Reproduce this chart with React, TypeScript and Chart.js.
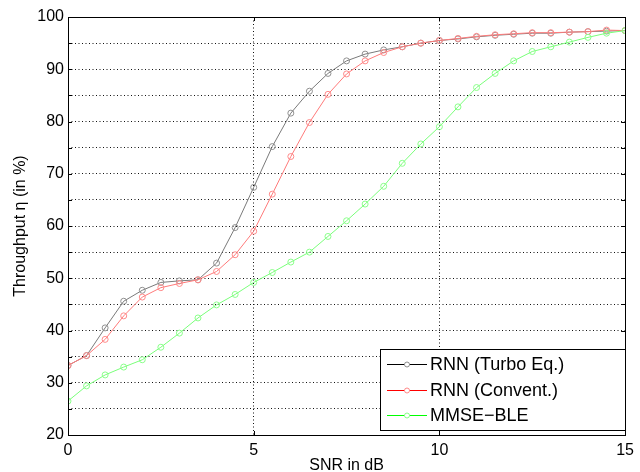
import React, { useEffect, useRef } from "react";
import { Chart, registerables } from "chart.js";

Chart.register(...registerables);

const snr = [0, 0.5, 1, 1.5, 2, 2.5, 3, 3.5, 4, 4.5, 5, 5.5, 6, 6.5, 7, 7.5, 8, 8.5, 9, 9.5, 10, 10.5, 11, 11.5, 12, 12.5, 13, 13.5, 14, 14.5, 15];

const turbo = [33.3, 35.2, 40.5, 45.6, 47.7, 49.2, 49.5, 49.7, 52.9, 59.7, 67.4, 75.2, 81.6, 85.8, 89.2, 91.6, 92.9, 93.7, 94.3, 95.0, 95.5, 95.8, 96.2, 96.5, 96.7, 96.9, 96.9, 97.1, 97.2, 97.3, 97.4];
const convent = [33.3, 35.2, 38.3, 42.8, 46.4, 48.2, 49.0, 49.7, 51.3, 54.5, 59.0, 66.1, 73.3, 79.8, 85.2, 89.1, 91.6, 93.2, 94.3, 95.0, 95.5, 95.9, 96.3, 96.6, 96.8, 97.0, 97.0, 97.1, 97.2, 97.5, 97.4];
const mmse = [26.5, 29.4, 31.5, 33.0, 34.4, 36.8, 39.5, 42.4, 44.9, 46.9, 49.2, 51.1, 53.1, 55.0, 58.0, 61.0, 64.2, 67.6, 72.0, 75.7, 79.0, 82.8, 86.5, 89.2, 91.6, 93.4, 94.3, 95.2, 96.1, 96.9, 97.4];

const seriesNames = ["RNN (Turbo Eq.)", "RNN (Convent.)", "MMSE\u2212BLE"];
const xTicks = [0, 5, 10, 15];
const yTicks = [20, 25, 30, 35, 40, 45, 50, 55, 60, 65, 70, 75, 80, 85, 90, 95, 100];

const lineColors = ["#7a7a7a", "#ff7a7a", "#7aff7a"];
const markerColors = ["#909090", "#ff8a8a", "#8aff8a"];
const legendLineColors = ["#000000", "#ff0000", "#00ff00"];
const FONT = "'Liberation Sans', Arial, sans-serif";

const toPoints = (ys: number[]) => ys.map((y, i) => ({ x: snr[i], y }));

const boxPlugin = {
  id: "boxPlugin",
  afterDatasetsDraw(chart: any) {
    const { ctx, chartArea: a, scales } = chart;
    ctx.save();
    ctx.strokeStyle = "#000";
    ctx.lineWidth = 1;
    ctx.strokeRect(Math.round(a.left) + 0.5, Math.round(a.top) + 0.5, Math.round(a.right - a.left), Math.round(a.bottom - a.top));
    const tl = 4;
    ctx.beginPath();
    yTicks.forEach((v) => {
      const y = Math.round(scales.y.getPixelForValue(v)) + 0.5;
      ctx.moveTo(a.left, y); ctx.lineTo(a.left + tl, y);
      ctx.moveTo(a.right, y); ctx.lineTo(a.right - tl, y);
    });
    xTicks.forEach((v) => {
      const x = Math.round(scales.x.getPixelForValue(v)) + 0.5;
      ctx.moveTo(x, a.bottom); ctx.lineTo(x, a.bottom - tl);
      ctx.moveTo(x, a.top); ctx.lineTo(x, a.top + tl);
    });
    ctx.stroke();
    ctx.restore();
  },
  afterDraw(chart: any) {
    const { ctx } = chart;
    const bx = 380, by = 349, bw = 245, bh = 81;
    ctx.save();
    ctx.fillStyle = "#fff";
    ctx.fillRect(bx, by, bw, bh);
    ctx.strokeStyle = "#000";
    ctx.lineWidth = 1;
    ctx.strokeRect(bx + 0.5, by + 0.5, bw, bh);
    const rows = [364, 390, 415];
    ctx.font = `18px ${FONT}`;
    ctx.textBaseline = "middle";
    ctx.textAlign = "left";
    seriesNames.forEach((name, i) => {
      const y = rows[i] + 0.5;
      ctx.strokeStyle = legendLineColors[i];
      ctx.beginPath();
      ctx.moveTo(387, y);
      ctx.lineTo(427, y);
      ctx.stroke();
      ctx.strokeStyle = markerColors[i];
      ctx.fillStyle = "#fff";
      ctx.beginPath();
      ctx.arc(407, y, 2.5, 0, Math.PI * 2);
      ctx.fill();
      ctx.stroke();
      ctx.fillStyle = "#000";
      ctx.fillText(name, 430, rows[i] + 1);
    });
    ctx.restore();
  },
};

export default function App() {
  const ref = useRef<HTMLCanvasElement>(null);
  useEffect(() => {
    document.body.style.margin = "0";
    const mk = (label: string, ys: number[], i: number, order: number) => ({
      label,
      data: toPoints(ys),
      borderColor: lineColors[i],
      borderWidth: 1,
      pointRadius: 3,
      pointBorderWidth: 1,
      pointBorderColor: markerColors[i],
      pointBackgroundColor: "rgba(0,0,0,0)",
      pointStyle: "circle",
      tension: 0,
      fill: false,
      order,
    });
    const chart = new Chart(ref.current as HTMLCanvasElement, {
      type: "line",
      data: {
        datasets: [
          mk(seriesNames[0], turbo, 0, 3),
          mk(seriesNames[1], convent, 1, 2),
          mk(seriesNames[2], mmse, 2, 1),
        ],
      },
      options: {
        animation: false,
        responsive: true,
        maintainAspectRatio: false,
        layout: { padding: { top: 17, right: 9, left: 0, bottom: 0 } },
        plugins: { legend: { display: false }, tooltip: { enabled: false } },
        scales: {
          x: {
            type: "linear",
            min: 0,
            max: 15,
            afterFit: (s: any) => { s.height = 37; },
            ticks: {
              stepSize: 5,
              color: "#000",
              padding: 6,
              maxRotation: 0,
              font: { family: FONT, size: 16 },
            },
            grid: {
              color: (c: any) => (c.tick && (c.tick.value === 0 || c.tick.value === 15) ? "rgba(0,0,0,0)" : "#111"),
              lineWidth: 1,
              drawTicks: false,
            },
            border: { display: false, dash: [1, 2.5] },
            title: {
              display: true,
              text: "SNR in dB",
              color: "#000",
              font: { family: FONT, size: 16, lineHeight: 1 },
              padding: { top: 0, bottom: -2 },
            },
          },
          y: {
            min: 20,
            max: 100,
            afterFit: (s: any) => { s.width = 68; },
            afterBuildTicks: (s: any) => { s.ticks = yTicks.map((v) => ({ value: v })); },
            ticks: {
              color: "#000",
              padding: 4,
              font: { family: FONT, size: 16 },
              callback: (v: any) => (Number(v) % 10 === 0 ? String(v) : ""),
            },
            grid: {
              color: (c: any) => (c.tick && (c.tick.value === 20 || c.tick.value === 100) ? "rgba(0,0,0,0)" : "#111"),
              lineWidth: 1,
              drawTicks: false,
            },
            border: { display: false, dash: [1, 2.5] },
            title: {
              display: true,
              text: "Throughput \u03b7 (in %)",
              color: "#000",
              font: { family: FONT, size: 16 },
              padding: { top: 11, bottom: 0 },
            },
          },
        },
      },
      plugins: [boxPlugin],
    } as any);
    return () => chart.destroy();
  }, []);
  return (
    <div style={{ position: "relative", width: 640, height: 472 }}>
      <canvas ref={ref} />
    </div>
  );
}
